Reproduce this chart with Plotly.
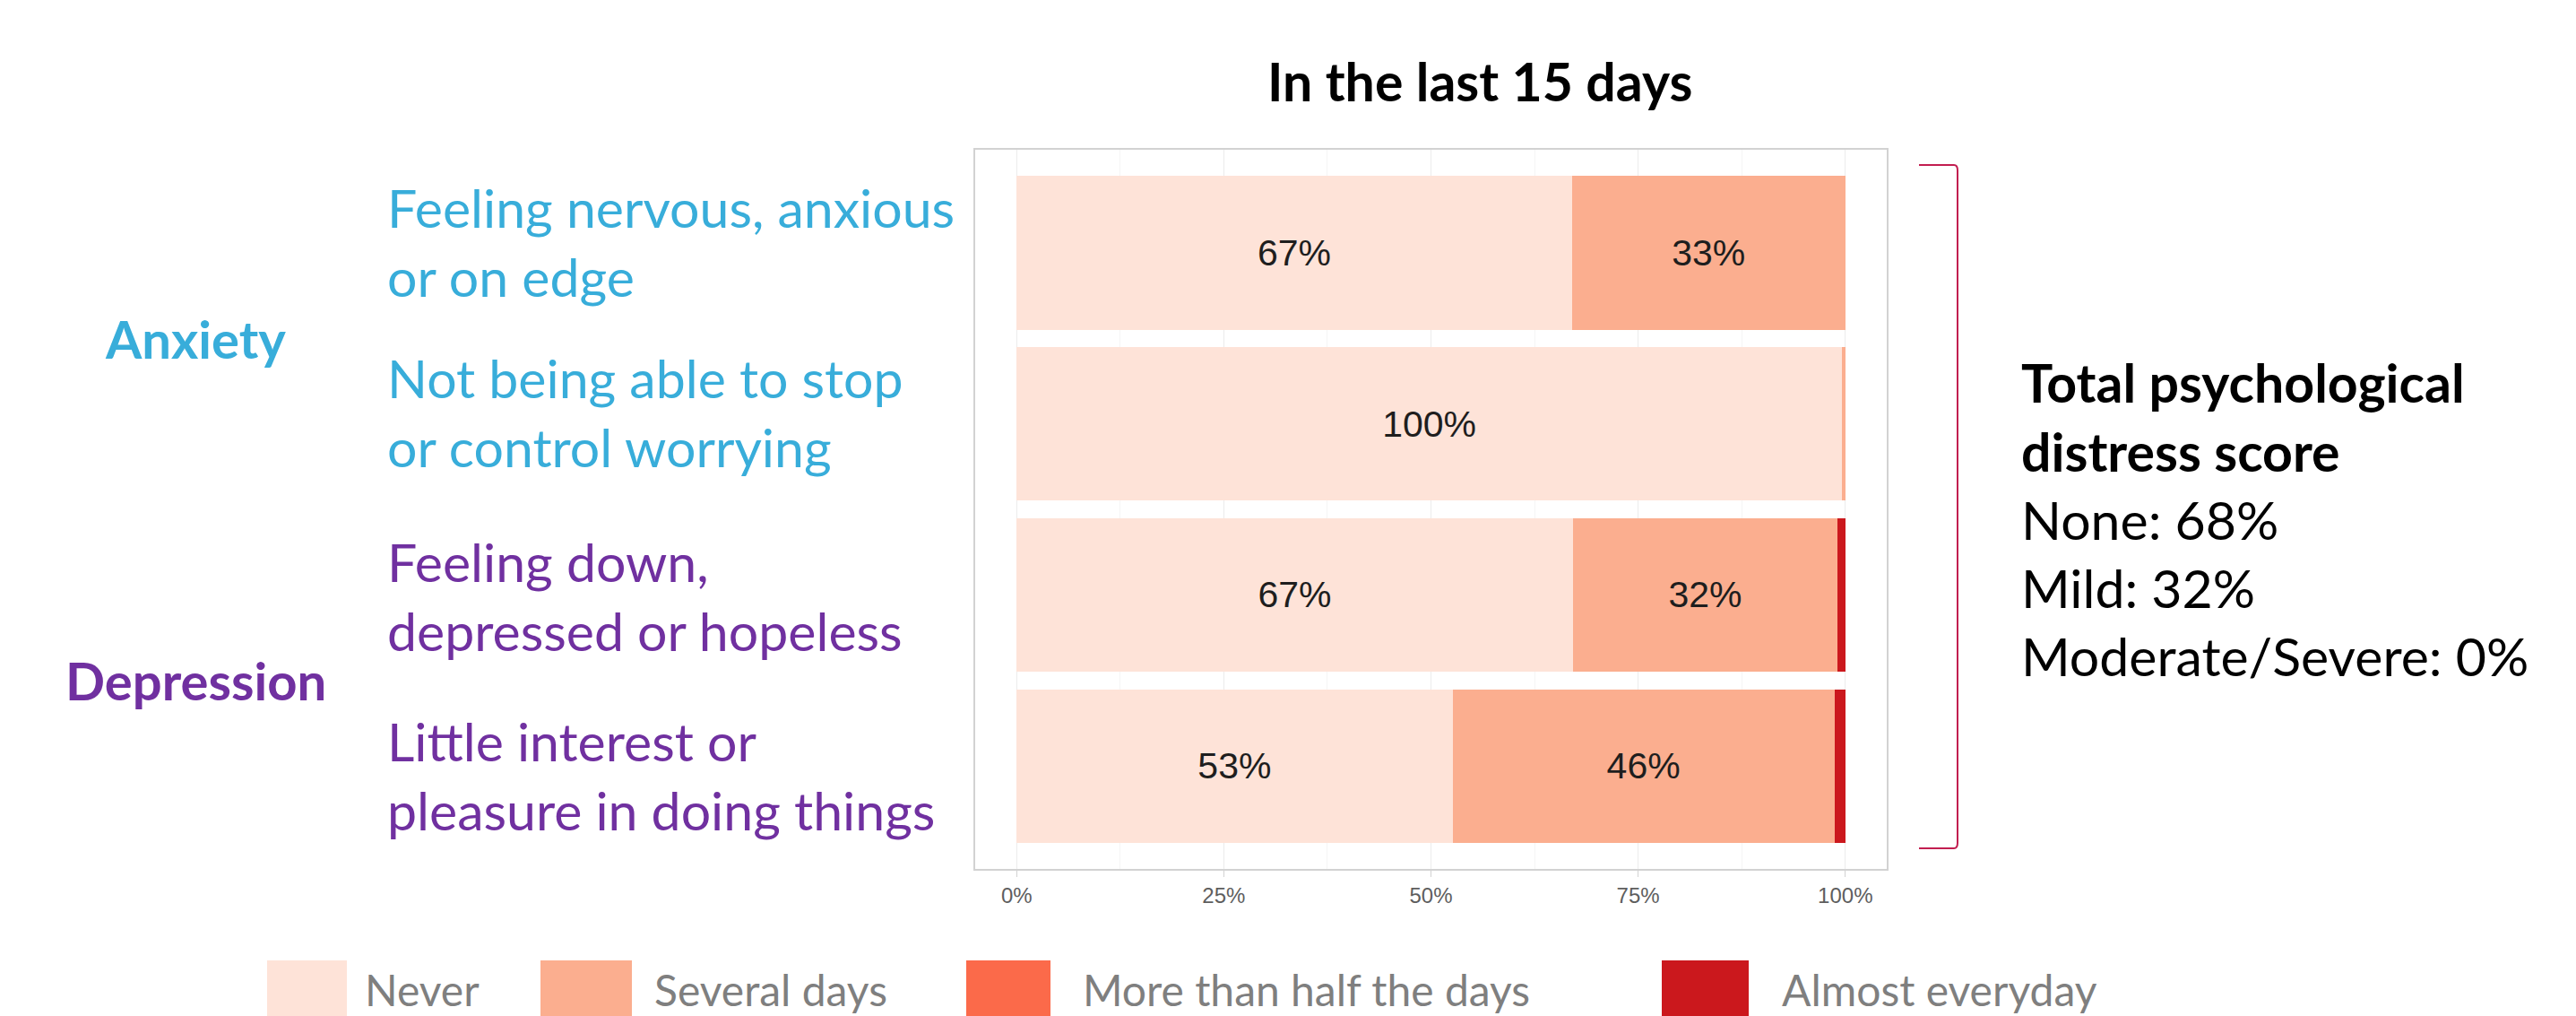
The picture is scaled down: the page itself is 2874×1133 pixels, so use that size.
import plotly.graph_objects as go

# ---------------- data ----------------
items = [
    "Feeling nervous, anxious or on edge",
    "Not being able to stop or control worrying",
    "Feeling down, depressed or hopeless",
    "Little interest or pleasure in doing things",
]
item_labels = [
    "Feeling nervous, anxious<br>or on edge",
    "Not being able to stop<br>or control worrying",
    "Feeling down,<br>depressed or hopeless",
    "Little interest or<br>pleasure in doing things",
]
item_group = ["Anxiety", "Anxiety", "Depression", "Depression"]

responses = ["Never", "Several days", "More than half the days", "Almost everyday"]
never = [67.0, 99.6, 67.1, 52.6]
several_days = [33.0, 0.4, 32.0, 46.1]
more_than_half = [0.0, 0.0, 0.0, 0.0]
almost_everyday = [0.0, 0.0, 0.9, 1.3]
series = [never, several_days, more_than_half, almost_everyday]

x_ticks = [0, 25, 50, 75, 100]
x_tick_labels = ["0%", "25%", "50%", "75%", "100%"]

distress_title = ["Total psychological", "distress score"]
distress_levels = ["None", "Mild", "Moderate/Severe"]
distress_values = [68, 32, 0]

title_text = "In the last 15 days"

# ---------------- style ----------------
colors = ["#FEE3D8", "#FBAE8F", "#FB6A4A", "#CB181D"]
group_colors = {"Anxiety": "#38ADDA", "Depression": "#7030A0"}
W, H = 2874, 1133
L, R, T, B = 1080, 2097, 159, 961   # panel pixel box


def px(x):
    return (x - L) / (R - L)


def py(y):
    return (B - y) / (B - T)


fig = go.Figure()
for name, vals, col in zip(responses, series, colors):
    fig.add_trace(go.Bar(
        y=items, x=vals, name=name, orientation="h",
        marker=dict(color=col, line=dict(width=0)),
        width=0.9,
        text=[f"{round(v)}%" if v >= 5 else "" for v in vals],
        textposition="inside", insidetextanchor="middle",
        textfont=dict(family="Liberation Sans, Arial", size=41, color="#1E1E1E"),
        showlegend=False,
    ))

fig.update_layout(
    width=W, height=H,
    margin=dict(l=L, r=W - R, t=T, b=H - B, pad=0),
    barmode="stack",
    plot_bgcolor="white", paper_bgcolor="white",
    xaxis=dict(
        range=[-5, 105], tickvals=x_ticks, ticktext=x_tick_labels,
        tickfont=dict(family="Liberation Sans, Arial", size=24, color="#5E5E5E"),
        showgrid=True, gridcolor="#ECECEC", gridwidth=1,
        minor=dict(dtick=12.5, tick0=0, showgrid=True, gridcolor="#F5F5F5", gridwidth=1),
        zeroline=False,
        showline=True, linecolor="#D2D2D2", linewidth=2, mirror=True,
        ticks="outside", ticklen=7, tickcolor="#D2D2D2",
        fixedrange=True,
    ),
    yaxis=dict(
        type="category", categoryorder="array", categoryarray=items,
        range=[3.6, -0.6], showticklabels=False, showgrid=False,
        showline=True, linecolor="#D2D2D2", linewidth=2, mirror=True,
        zeroline=False, ticks="",
    ),
    font=dict(family="Lato, Liberation Sans", color="black"),
)

ann = []
# title
ann.append(dict(xref="paper", yref="paper", x=px(1643), y=py(83),
                text=f"<b>{title_text}</b>", showarrow=False,
                font=dict(family="Lato", size=59, color="black"),
                xanchor="center", yanchor="middle"))

# item labels (left)
label_shift = [12, 13, -2, -11]
for it, lab, grp, sh in zip(items, item_labels, item_group, label_shift):
    ann.append(dict(xref="paper", yref="y", x=px(422), y=it, yshift=sh,
                    text=lab, showarrow=False, align="left",
                    xanchor="left", yanchor="middle",
                    font=dict(family="Lato", size=59, color=group_colors[grp])))

# group labels
groups = []
for g in item_group:
    if g not in groups:
        groups.append(g)
for g in groups:
    idx = [i for i, gg in enumerate(item_group) if gg == g]
    ymid = sum(idx) / len(idx)
    ann.append(dict(xref="paper", yref="y", x=px(210), y=ymid,
                    text=f"<b>{g}</b>", showarrow=False,
                    xanchor="center", yanchor="middle",
                    font=dict(family="Lato", size=58, color=group_colors[g])))

# distress summary on the right
right_lines = [f"<b>{t}</b>" for t in distress_title] + \
    [f"{lvl}: {v}%" for lvl, v in zip(distress_levels, distress_values)]
right_y = [418, 495, 571, 647, 724]
for txt, yy in zip(right_lines, right_y):
    ann.append(dict(xref="paper", yref="paper", x=px(2245), y=py(yy),
                    text=txt, showarrow=False, xanchor="left", yanchor="middle",
                    font=dict(family="Lato", size=59, color="black")))

# custom legend
sw_x = [290, 595, 1070, 1846]
sw_w = [89, 102, 94, 97]
txt_x = [397, 720, 1198, 1978]
shapes = []
for name, col, sx, sw, tx in zip(responses, colors, sw_x, sw_w, txt_x):
    shapes.append(dict(type="rect", xref="paper", yref="paper",
                       x0=px(sx), x1=px(sx + sw), y0=py(1063), y1=py(1140),
                       fillcolor=col, line=dict(width=0), layer="above"))
    ann.append(dict(xref="paper", yref="paper", x=px(tx), y=py(1095),
                    text=name, showarrow=False, xanchor="left", yanchor="middle",
                    font=dict(family="Lato", size=48, color="#7F7F7F")))

# bracket
bx0, bx1, by0, by1 = 2133, 2176, 176, 938
shapes.append(dict(type="path", xref="paper", yref="paper",
                   path=(f"M {px(bx0)},{py(by0)} L {px(bx1 - 4)},{py(by0)} "
                         f"Q {px(bx1)},{py(by0)} {px(bx1)},{py(by0 + 6)} "
                         f"L {px(bx1)},{py(by1 - 6)} "
                         f"Q {px(bx1)},{py(by1)} {px(bx1 - 4)},{py(by1)} "
                         f"L {px(bx0)},{py(by1)}"),
                   line=dict(color="#C21E50", width=2)))

fig.update_layout(annotations=ann, shapes=shapes)
fig.write_html("out.html")
